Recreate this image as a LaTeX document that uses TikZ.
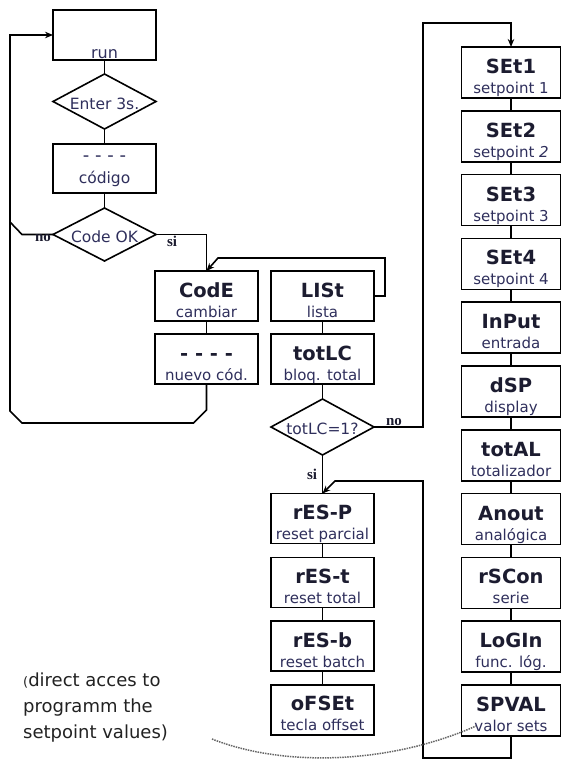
\documentclass[tikz,border=0pt]{standalone}
\usepackage{fontspec}
\setmainfont{DejaVu Sans}
\newfontfamily\lblfont{Liberation Serif}
\usetikzlibrary{arrows.meta,shapes.geometric}
\definecolor{ttlc}{HTML}{1C1C30}
\definecolor{subc}{HTML}{2F2F5C}
\definecolor{annc}{HTML}{222222}
\tikzset{
  lw/.style={line width=1.6pt},
  box/.style={draw=black, lw, minimum width=103pt, minimum height=50pt, inner sep=0pt, outer sep=0pt},
  rbox/.style={box, minimum width=99pt, minimum height=51pt},
  dia/.style={diamond, draw=black, lw, minimum width=103pt, minimum height=55pt, inner sep=0pt, outer sep=0pt},
  ttl/.style={anchor=base, inner sep=0pt, text=ttlc, font=\fontsize{19.5}{20}\selectfont\bfseries},
  sbt/.style={anchor=base, inner sep=0pt, text=subc, font=\fontsize{15}{16}\selectfont},
  dtx/.style={anchor=base, inner sep=0pt, text=subc, font=\fontsize{15.5}{16}\selectfont},
  lbl/.style={anchor=base, inner sep=0pt, text=ttlc, font=\lblfont\fontsize{15}{16}\selectfont\bfseries},
  conn/.style={draw=black, lw},
  arr/.style={conn, -{Stealth[length=8pt,width=6.5pt]}},
  ann/.style={anchor=base west, inner sep=0pt, text=annc, font=\fontsize{18}{26}\selectfont},
  dotc/.style={draw=black!60, line width=1.5pt, densely dotted},
}
\newcommand\tb[6]{%
  \node[#1] (#2) at (#3,#4) {};
  \node[ttl] (#2t) at ([yshift=-1pt]#2.center) {#5};
  \node[sbt] (#2s) at ([yshift=-21pt]#2.center) {#6};
}
\begin{document}
\begin{tikzpicture}[x=1pt,y=-1pt]
\fill[white] (0,0) rectangle (562,762);
\useasboundingbox (0,0) rectangle (562,762);

% left upper column
\node[box] (run) at (104.5,35) {};
\node[sbt, font=\fontsize{16}{16}\selectfont] (runt) at ([yshift=-24pt]run.center) {run};
\node[dia] (ent) at (104.5,101.5) {};
\node[dtx] (entt) at ([yshift=-8pt]ent.center) {Enter 3s.};
\node[box, minimum height=49pt] (cod) at (104.5,168.5) {};
\node[sbt, font=\fontsize{18}{18}\selectfont] (codd) at ([yshift=6.5pt]cod.center) {- - - -};
\node[sbt, font=\fontsize{15.5}{16}\selectfont] (cods) at ([yshift=-14.5pt]cod.center) {código};
\node[dia, minimum height=53pt] (cok) at (104.5,234.5) {};
\node[dtx] (cokt) at ([yshift=-8pt]cok.center) {Code OK};

% middle
\tb{box}{code}{206.5}{296}{CodE}{cambiar}
\tb{box}{nuevo}{206.5}{359}{- - - -}{nuevo cód.}
\tb{box}{list}{322.5}{296}{LISt}{lista}
\tb{box}{tlc}{322.5}{359}{totLC}{bloq. total}
\node[dia, minimum height=56pt] (tq) at (322.5,427) {};
\node[dtx] (tqt) at ([yshift=-7pt]tq.center) {totLC=1?};

% lower middle column
\tb{box}{resp}{322.5}{518.5}{rES-P}{reset parcial}
\tb{box}{rest}{322.5}{582.3}{rES-t}{reset total}
\tb{box}{resb}{322.5}{646.1}{rES-b}{reset batch}
\tb{box}{ofs}{322.5}{709.9}{oFSEt}{tecla offset}

% right column
\tb{rbox}{sa}{511}{72.5}{SEt1}{setpoint 1}
\tb{rbox}{sb}{511}{136.3}{SEt2}{setpoint \textit{2}}
\tb{rbox}{sc}{511}{200.1}{SEt3}{setpoint 3}
\tb{rbox}{sd}{511}{263.9}{SEt4}{setpoint 4}
\tb{rbox}{se}{511}{327.7}{InPut}{entrada}
\tb{rbox}{sf}{511}{391.5}{dSP}{display}
\tb{rbox}{sg}{511}{455.3}{totAL}{totalizador}
\tb{rbox}{sh}{511}{519.1}{Anout}{analógica}
\tb{rbox}{si}{511}{582.9}{rSCon}{serie}
\tb{rbox}{sj}{511}{646.7}{LoGIn}{func. lóg.}
\tb{rbox}{sk}{511}{710.5}{SPVAL}{valor sets}

% junction coordinates
\coordinate (railA) at (10,222);
\coordinate (railB) at (10,411);
\coordinate (lowL) at (22,423);
\coordinate (loopR) at (385,258);
\coordinate (loopL) at (218,258);
\coordinate (upR) at (423,23);
\coordinate (botR) at (423,758);
\coordinate (retR) at (423,481);
\coordinate (retL) at (335,481);

% connectors, upper left
\draw[conn] (run.south) -- (ent.north);
\draw[conn] (ent.south) -- (cod.north);
\draw[conn] (cod.south) -- (cok.north);
\draw[arr] (cok.west) -- ++(-31,0) -- (railA) |- (run.west);
\draw[conn] (cok.east) -| (code.north);
\draw[conn] (code.south) -- (nuevo.north);
\draw[conn] (nuevo.south) -- ++(0,26) -- ++(-13,13) -- (lowL) -- (railB) -- (railA);
\draw[arr] (list.east) -| (loopR) -- (loopL) -- (code.north);
\draw[conn] (list.south) -- (tlc.north);
\draw[conn] (tlc.south) -- (tq.north);
\draw[arr] (tq.east) -| (upR) -| (sa.north);
\draw[conn] (tq.south) -- (resp.north);
\draw[arr] (sk.south) |- (botR) -- (retR) -- (retL) -- (resp.north);

% column links
\draw[conn] (resp.south) -- (rest.north);
\draw[conn] (rest.south) -- (resb.north);
\draw[conn] (resb.south) -- (ofs.north);
\draw[conn] (sa.south) -- (sb.north);
\draw[conn] (sb.south) -- (sc.north);
\draw[conn] (sc.south) -- (sd.north);
\draw[conn] (sd.south) -- (se.north);
\draw[conn] (se.south) -- (sf.north);
\draw[conn] (sf.south) -- (sg.north);
\draw[conn] (sg.south) -- (sh.north);
\draw[conn] (sh.south) -- (si.north);
\draw[conn] (si.south) -- (sj.north);
\draw[conn] (sj.south) -- (sk.north);

% labels
\node[lbl] (no1) at (43,241) {no};
\node[lbl] (si1) at (172,246) {si};
\node[lbl] (no2) at (394,425) {no};
\node[lbl] (si2) at (312,479) {si};

% annotation
\coordinate (dotA) at (212,739);
\coordinate (dotB) at (476,726);
\draw[dotc] (dotA) .. controls (280,766) and (385,766) .. (dotB);
\node[ann] (an1) at (23,686) {{\fontsize{13}{13}\selectfont(}direct acces to};
\node[ann] (an2) at (23,712) {programm the};
\node[ann] (an3) at (23,738) {setpoint values)};
\end{tikzpicture}
\end{document}
